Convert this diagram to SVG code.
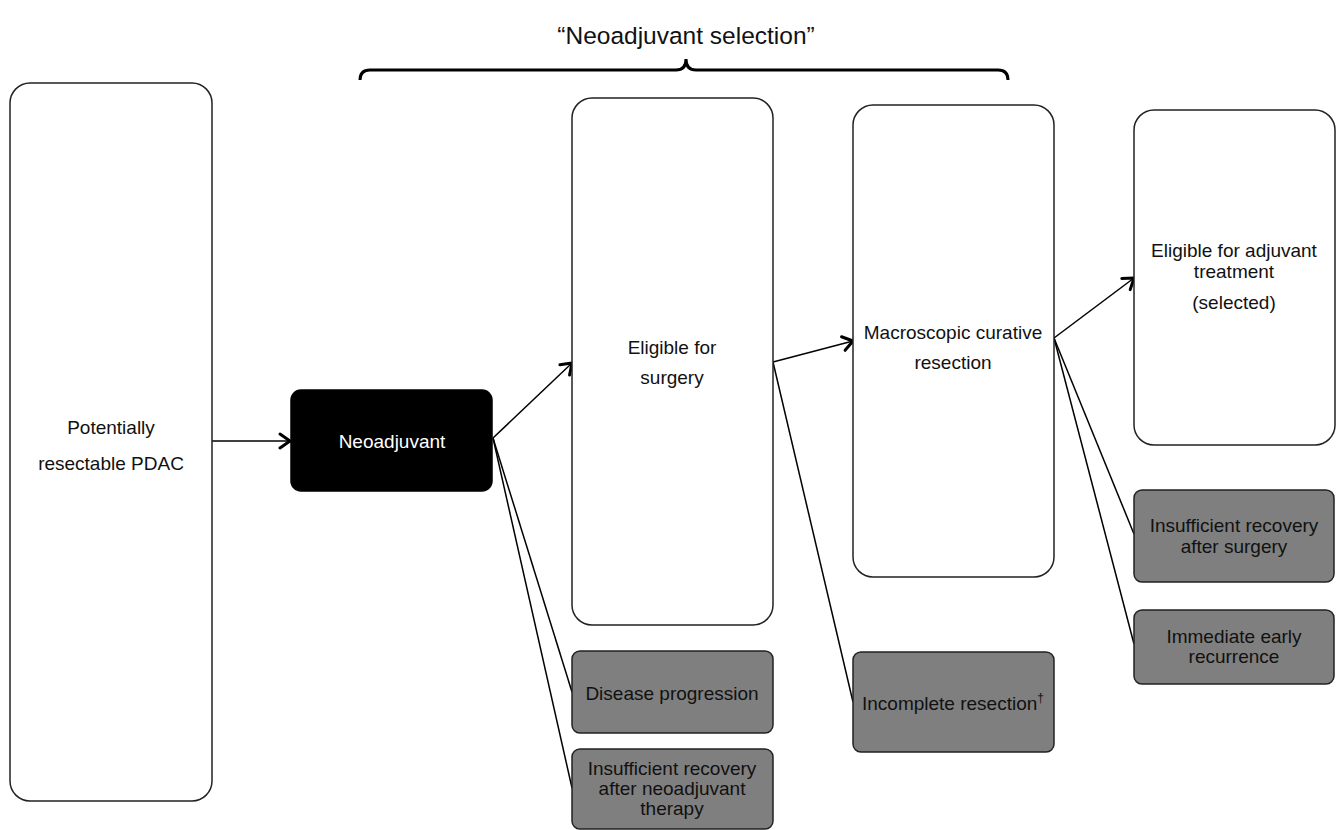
<svg xmlns="http://www.w3.org/2000/svg" width="1338" height="830" viewBox="0 0 1338 830">
<defs>
<style>
text{font-family:"Liberation Sans",Arial,sans-serif;font-size:19px;fill:#111;text-anchor:middle}
.w{fill:#fff;stroke:#222;stroke-width:1.5}
.g{fill:#7f7f7f;stroke:#222;stroke-width:1.5}
.k{fill:#000;stroke:#000;stroke-width:1.5}
.c{stroke:#000;stroke-width:1.5;fill:none}
.t{fill:#fff}
</style>
<marker id="ah" markerUnits="userSpaceOnUse" markerWidth="18" markerHeight="18" refX="15" refY="9" orient="auto" viewBox="0 0 18 18">
<path d="M5,2 L15,9 L5,16" fill="none" stroke="#000" stroke-width="3" stroke-linecap="round" stroke-linejoin="round"/>
</marker>
</defs>
<rect width="1338" height="830" fill="#fff"/>
<g id="title">
<text x="686" y="44" style="font-size:24.5px">“Neoadjuvant selection”</text>
<path d="M360,80 Q360,70 370,70 L676,70 Q686,70 686,59 Q686,70 696,70 L998,70 Q1008,70 1008,80" fill="none" stroke="#000" stroke-width="3"/>
</g>
<g id="connectors">
<line class="c" x1="212" y1="441" x2="290" y2="441" marker-end="url(#ah)"/>
<line class="c" x1="493" y1="438" x2="572" y2="363" marker-end="url(#ah)"/>
<line class="c" x1="493" y1="438" x2="572" y2="692"/>
<line class="c" x1="493" y1="438" x2="572" y2="788"/>
<line class="c" x1="773" y1="362" x2="853" y2="341" marker-end="url(#ah)"/>
<line class="c" x1="773" y1="362" x2="853" y2="702"/>
<line class="c" x1="1054" y1="338" x2="1134" y2="278" marker-end="url(#ah)"/>
<line class="c" x1="1054" y1="338" x2="1134" y2="534"/>
<line class="c" x1="1054" y1="338" x2="1134" y2="644"/>
</g>
<g id="n-pdac">
<rect class="w" x="10" y="83" width="202" height="718" rx="20"/>
<text x="111" y="434">Potentially</text>
<text x="111" y="470">resectable PDAC</text>
</g>
<g id="n-neo">
<rect class="k" x="291" y="390" width="201" height="101" rx="10"/>
<text class="t" x="392" y="448">Neoadjuvant</text>
</g>
<g id="n-surgery">
<rect class="w" x="572" y="98" width="201" height="527" rx="20"/>
<text x="672" y="354">Eligible for</text>
<text x="672" y="384">surgery</text>
</g>
<g id="n-resection">
<rect class="w" x="853" y="105" width="201" height="472" rx="20"/>
<text x="953" y="339">Macroscopic curative</text>
<text x="953" y="369">resection</text>
</g>
<g id="n-adjuvant">
<rect class="w" x="1134" y="110" width="201" height="335" rx="20"/>
<text x="1234" y="257">Eligible for adjuvant</text>
<text x="1234" y="278">treatment</text>
<text x="1234" y="309">(selected)</text>
</g>
<g id="n-progression">
<rect class="g" x="572" y="651" width="201" height="82" rx="8"/>
<text x="672" y="700">Disease progression</text>
</g>
<g id="n-recovery-neo">
<rect class="g" x="572" y="749" width="201" height="80" rx="8"/>
<text x="672" y="775">Insufficient recovery</text>
<text x="672" y="795">after neoadjuvant</text>
<text x="672" y="815">therapy</text>
</g>
<g id="n-incomplete">
<rect class="g" x="853" y="652" width="201" height="100" rx="8"/>
<text x="953" y="710">Incomplete resection<tspan dy="-8" style="font-size:12px">†</tspan></text>
</g>
<g id="n-recovery-surg">
<rect class="g" x="1134" y="490" width="200" height="92" rx="8"/>
<text x="1234" y="532">Insufficient recovery</text>
<text x="1234" y="553">after surgery</text>
</g>
<g id="n-recurrence">
<rect class="g" x="1134" y="610" width="200" height="74" rx="8"/>
<text x="1234" y="643">Immediate early</text>
<text x="1234" y="663">recurrence</text>
</g>
</svg>
